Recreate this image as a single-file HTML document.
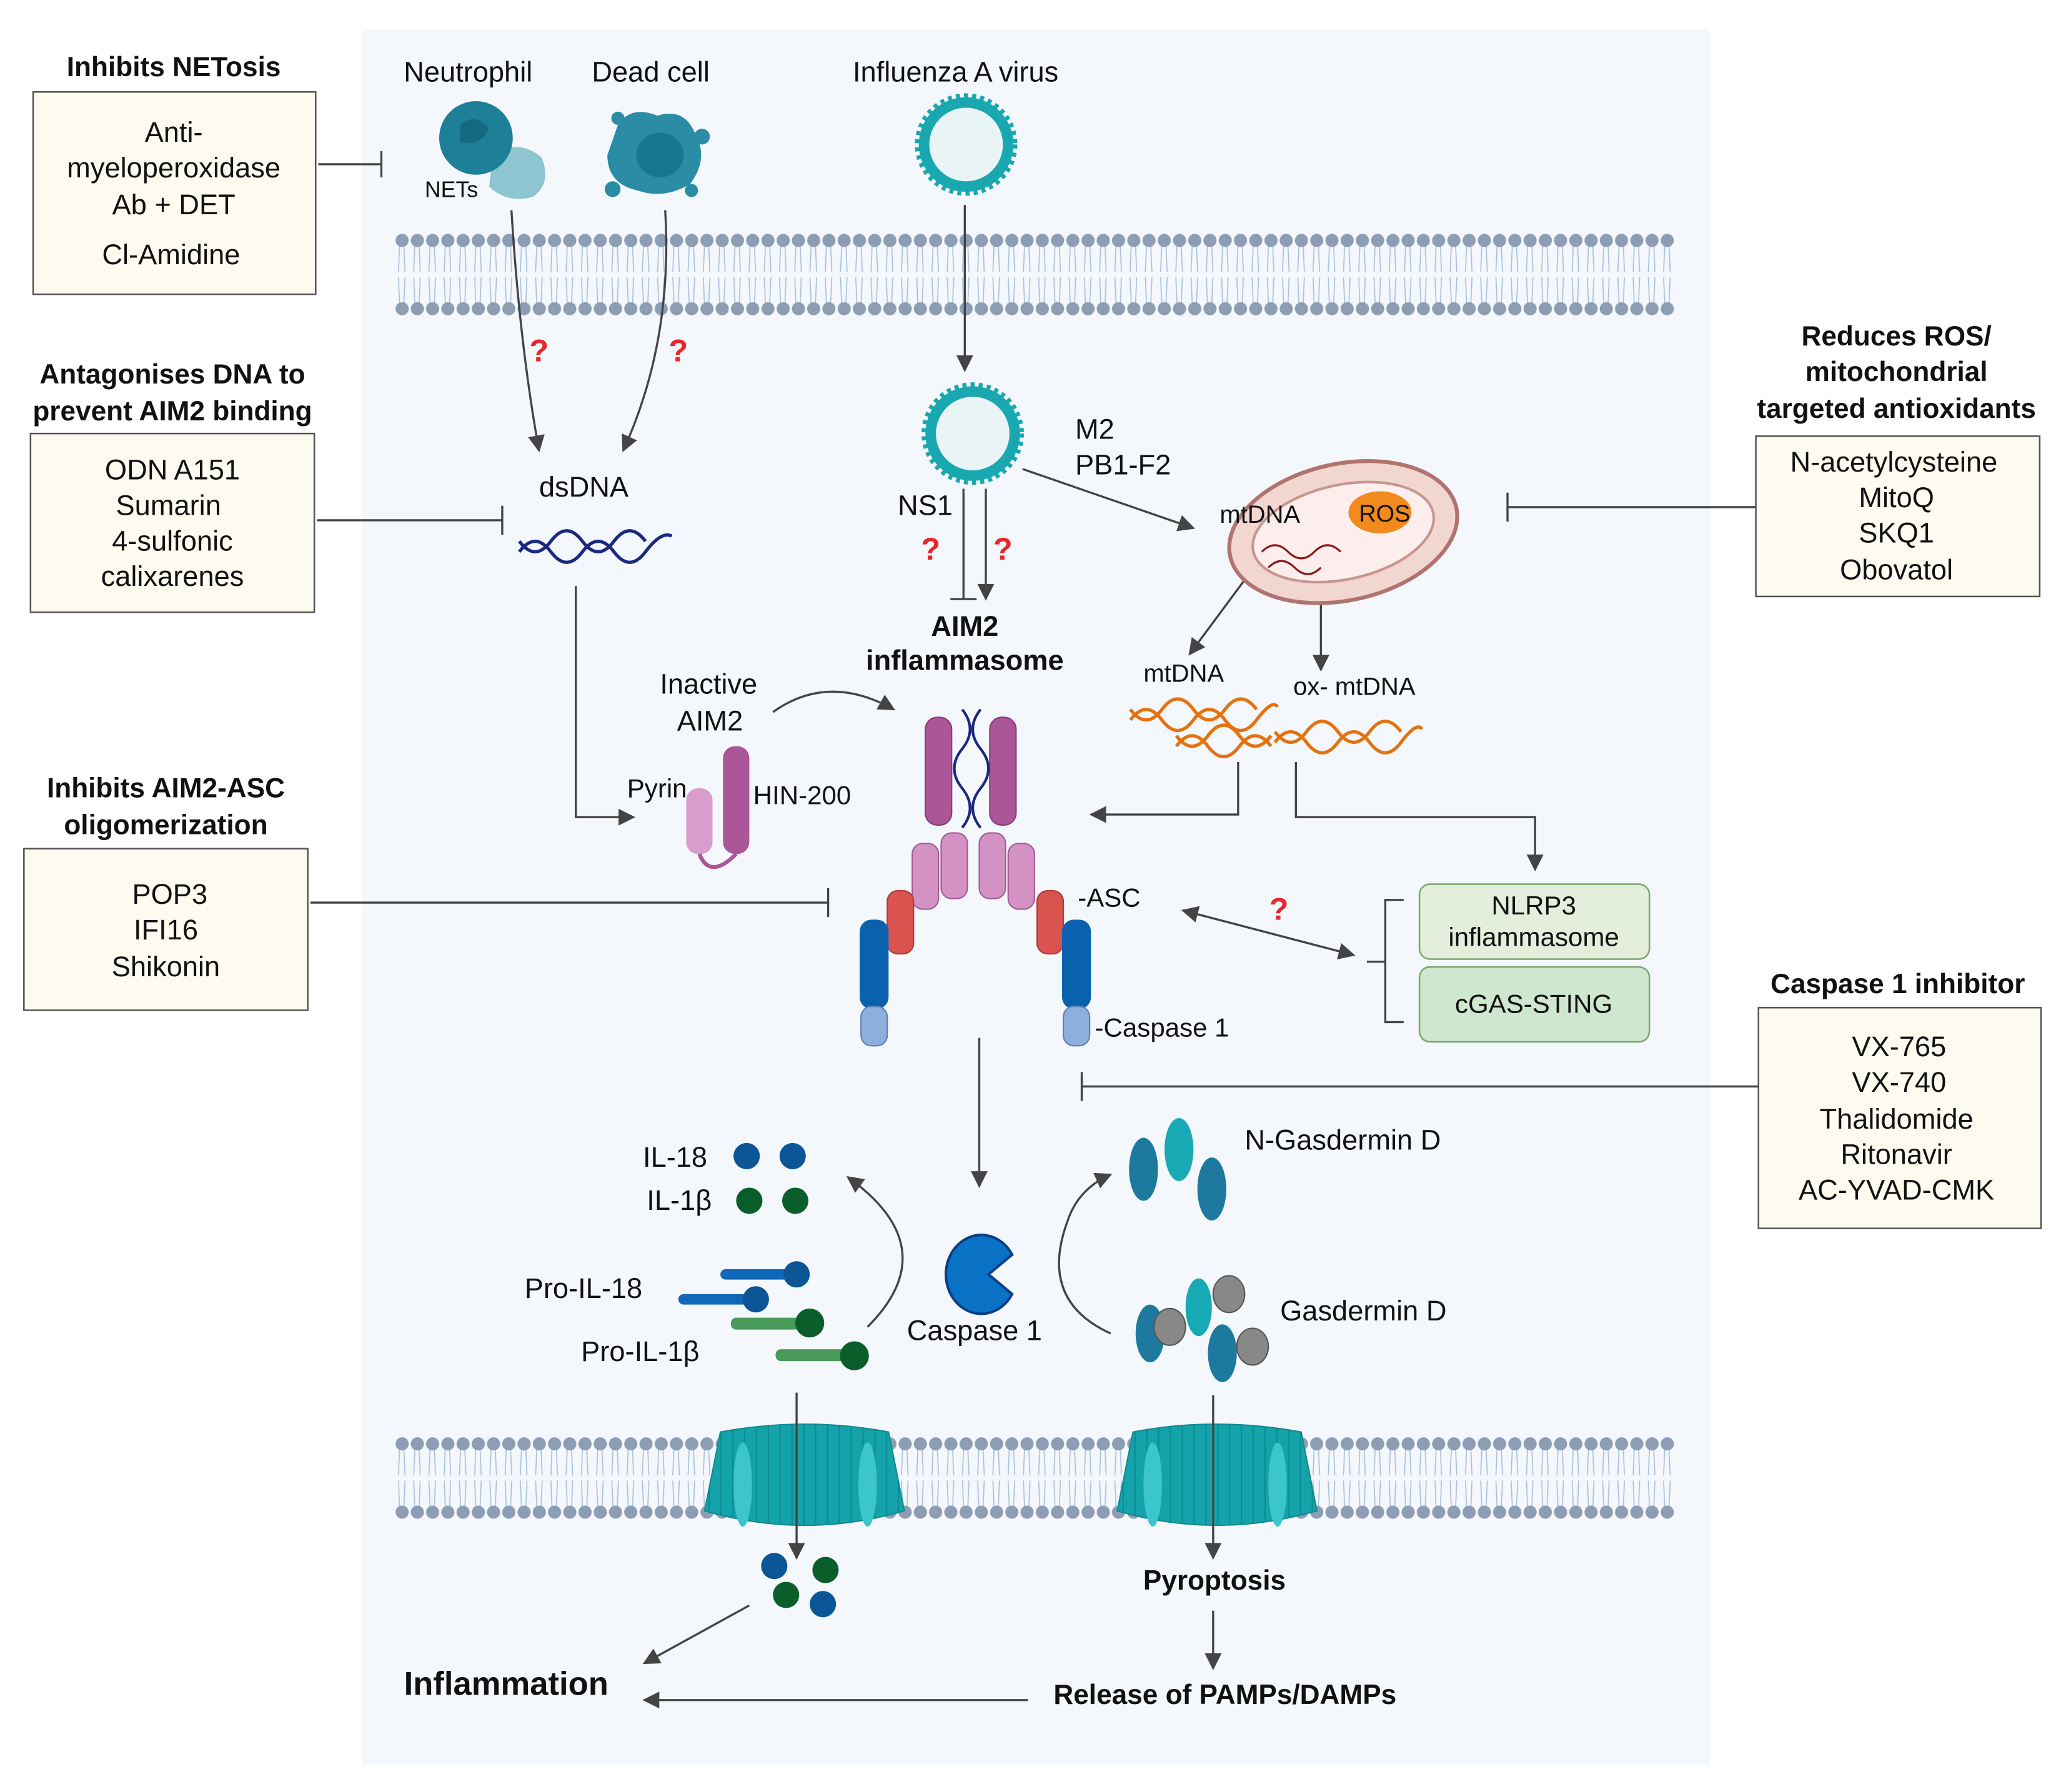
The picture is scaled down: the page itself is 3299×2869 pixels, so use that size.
<!DOCTYPE html>
<html><head><meta charset="utf-8"><style>html,body{margin:0;padding:0;background:#fff}svg{display:block}text{font-family:"Liberation Sans",sans-serif}</style></head><body>
<svg width="3299" height="2869" viewBox="0 0 1568 1364" xmlns="http://www.w3.org/2000/svg" fill="#111">
<defs>
<marker id="a" viewBox="0 0 10 10" refX="9" refY="5" markerWidth="9" markerHeight="8" orient="auto-start-reverse"><path d="M0,0L10,5L0,10z" fill="#444"/></marker>
<pattern id="mem" x="300" y="178" width="11.6" height="62" patternUnits="userSpaceOnUse">
<path d="M4,6 L3,29 M7,6 L8,29 M3,33 L4,56 M8,33 L7,56" stroke="#aac0da" stroke-width="0.8" fill="none"/>
<circle cx="5.8" cy="5" r="5" fill="#8c9db4"/><circle cx="5.8" cy="57" r="5" fill="#8c9db4"/>
</pattern>
<pattern id="mem2" x="300" y="1094" width="11.6" height="62" patternUnits="userSpaceOnUse">
<path d="M4,6 L3,29 M7,6 L8,29 M3,33 L4,56 M8,33 L7,56" stroke="#aac0da" stroke-width="0.8" fill="none"/>
<circle cx="5.8" cy="5" r="5" fill="#8c9db4"/><circle cx="5.8" cy="57" r="5" fill="#8c9db4"/>
</pattern>
<pattern id="pore" x="0" y="0" width="9" height="100" patternUnits="userSpaceOnUse"><rect width="9" height="100" fill="#14a3ab"/><path d="M8.5,0V100" stroke="#0d8a91" stroke-width="1"/></pattern>
</defs>
<rect x="275" y="22" width="1026" height="1321" fill="#f4f7fb"/>
<rect x="300" y="178" width="974" height="62" fill="url(#mem)"/>
<rect x="300" y="1094" width="974" height="62" fill="url(#mem2)"/>
<!-- pores -->
<g stroke="#0f8a90" stroke-width="1">
<path d="M548,1090 Q612,1078 676,1090 L688,1150 Q612,1172 536,1150Z" fill="url(#pore)"/>
<path d="M862,1090 Q925,1078 990,1090 L1002,1150 Q925,1172 850,1150Z" fill="url(#pore)"/>
</g>
<g fill="#3cc6cc"><ellipse cx="565" cy="1130" rx="7" ry="32"/><ellipse cx="660" cy="1130" rx="7" ry="32"/><ellipse cx="877" cy="1130" rx="7" ry="32"/><ellipse cx="972" cy="1130" rx="7" ry="32"/></g>

<g fill="#fdfbf0" stroke="#555" stroke-width="1.2">
<rect x="25" y="70" width="215" height="154"/>
<rect x="23" y="330" width="216" height="136"/>
<rect x="18" y="646" width="216" height="123"/>
<rect x="1336" y="332" width="216" height="122"/>
<rect x="1338" y="767" width="215" height="168"/>
</g>
<g font-weight="bold" font-size="21" text-anchor="middle">
<text x="132" y="58">Inhibits NETosis</text>
<text x="131" y="292">Antagonises DNA to</text><text x="131" y="320">prevent AIM2 binding</text>
<text x="126" y="607">Inhibits AIM2-ASC</text><text x="126" y="635">oligomerization</text>
<text x="1443" y="263">Reduces ROS/</text><text x="1443" y="290">mitochondrial</text><text x="1443" y="318">targeted antioxidants</text>
<text x="1444" y="756">Caspase 1 inhibitor</text>
</g>
<g font-size="21.5" text-anchor="middle">
<text x="132" y="108">Anti-</text><text x="132" y="135">myeloperoxidase</text><text x="132" y="163">Ab + DET</text><text x="130" y="201">Cl-Amidine</text>
<text x="131" y="365">ODN A151</text><text x="128" y="392">Sumarin</text><text x="131" y="419">4-sulfonic</text><text x="131" y="446">calixarenes</text>
<text x="129" y="688">POP3</text><text x="126" y="715">IFI16</text><text x="126" y="743">Shikonin</text>
<text x="1441" y="359">N-acetylcysteine</text><text x="1443" y="386">MitoQ</text><text x="1443" y="413">SKQ1</text><text x="1443" y="441">Obovatol</text>
<text x="1445" y="804">VX-765</text><text x="1445" y="831">VX-740</text><text x="1443" y="859">Thalidomide</text><text x="1443" y="886">Ritonavir</text><text x="1443" y="913">AC-YVAD-CMK</text>
</g>
<g stroke="#444" stroke-width="1.6" fill="none">
<path d="M242,125H290M290,115V135"/>
<path d="M241,396H382M382,385V407"/>
<path d="M236,687H630M630,676V698"/>
<path d="M1336,386H1147M1147,375V397"/>
<path d="M1338,827H823M823,816V838"/>
</g>
<g font-size="21.5" text-anchor="middle">
<text x="356" y="62">Neutrophil</text><text x="495" y="62">Dead cell</text><text x="727" y="62">Influenza A virus</text>
</g>
<!-- neutrophil -->
<path d="M375,118 Q395,105 412,120 Q420,140 405,150 Q385,155 372,142Z" fill="#8fc5d0"/>
<circle cx="362" cy="105" r="28" fill="#1d7f98"/><path d="M350,95 Q362,85 372,98 Q365,112 350,108Z" fill="#156a82"/>
<text x="323" y="150" font-size="17">NETs</text>
<!-- dead cell -->
<path d="M470,95 Q480,80 500,88 Q520,82 528,100 Q540,120 525,140 Q505,152 485,145 Q462,140 462,118Z" fill="#2a8ca5"/>
<ellipse cx="502" cy="118" rx="18" ry="17" fill="#157890"/>
<circle cx="470" cy="90" r="5" fill="#2a8ca5"/><circle cx="534" cy="104" r="6" fill="#2a8ca5"/><circle cx="466" cy="144" r="6" fill="#2a8ca5"/><circle cx="526" cy="145" r="5" fill="#2a8ca5"/>
<!-- virus -->
<g><circle cx="735" cy="110" r="36" fill="#1aa8b0"/><circle cx="735" cy="110" r="28" fill="#e8f4f6"/><circle cx="735" cy="110" r="36" fill="none" stroke="#1aa8b0" stroke-width="6" stroke-dasharray="3 3"/></g>
<g><circle cx="740" cy="330" r="36" fill="#1aa8b0"/><circle cx="740" cy="330" r="28" fill="#e8f4f6"/><circle cx="740" cy="330" r="36" fill="none" stroke="#1aa8b0" stroke-width="6" stroke-dasharray="3 3"/></g>
<g stroke="#444" stroke-width="1.6" fill="none">
<path d="M389,160 Q395,260 410,343" marker-end="url(#a)"/>
<path d="M506,160 Q512,260 474,343" marker-end="url(#a)"/>
<path d="M734,156V282" marker-end="url(#a)"/>
<path d="M750,372V456" marker-end="url(#a)"/>
<path d="M733,372V456M723,456H743"/>
<path d="M778,357L908,402" marker-end="url(#a)"/>
<path d="M948,440L905,498" marker-end="url(#a)"/>
<path d="M1005,447V510" marker-end="url(#a)"/>
<path d="M438,446V622H482" marker-end="url(#a)"/>
<path d="M588,542 Q630,512 680,540" marker-end="url(#a)"/>
<path d="M942,580V620H830" marker-end="url(#a)"/>
<path d="M986,580V622H1168V662" marker-end="url(#a)"/>
<path d="M900,693L1030,727" marker-start="url(#a)" marker-end="url(#a)"/>
<path d="M1068,685H1054V778H1068M1054,732H1040"/>
<path d="M745,790V903" marker-end="url(#a)"/>
<path d="M660,1010 Q720,950 645,896" marker-end="url(#a)"/>
<path d="M845,1015 Q790,990 812,930 Q820,905 845,894" marker-end="url(#a)"/>
<path d="M606,1060V1186" marker-end="url(#a)"/>
<path d="M923,1062V1186" marker-end="url(#a)"/>
<path d="M570,1222L490,1266" marker-end="url(#a)"/>
<path d="M923,1226V1270" marker-end="url(#a)"/>
<path d="M782,1294H490" marker-end="url(#a)"/>
</g>
<g fill="#e8262b" font-weight="bold" font-size="24" text-anchor="middle">
<text x="410" y="275" fill="#e8262b">?</text><text x="516" y="275" fill="#e8262b">?</text><text x="708" y="426" fill="#e8262b">?</text><text x="763" y="426" fill="#e8262b">?</text><text x="973" y="700" fill="#e8262b">?</text>
</g>
<g font-size="21.5">
<text x="410" y="378">dsDNA</text>
<text x="818" y="334">M2</text><text x="818" y="361">PB1-F2</text>
<text x="683" y="392">NS1</text>
<text x="502" y="528">Inactive</text><text x="515" y="556">AIM2</text>
<text x="477" y="607" font-size="20">Pyrin</text><text x="573" y="612" font-size="20">HIN-200</text>
<text x="820" y="690" font-size="20">-ASC</text><text x="833" y="789" font-size="20">-Caspase 1</text>
<text x="947" y="875">N-Gasdermin D</text><text x="974" y="1005">Gasdermin D</text>
<text x="690" y="1020">Caspase 1</text>
<text x="489" y="888">IL-18</text><text x="492" y="921">IL-1β</text>
<text x="399" y="988">Pro-IL-18</text><text x="442" y="1036">Pro-IL-1β</text>
<text x="870" y="519" font-size="19">mtDNA</text><text x="984" y="529" font-size="19">ox- mtDNA</text>
</g>
<g font-weight="bold" text-anchor="middle">
<text x="734" y="484" font-size="21.5">AIM2</text><text x="734" y="510" font-size="21.5">inflammasome</text>
<text x="924" y="1210" font-size="21">Pyroptosis</text>
<text x="932" y="1297" font-size="21">Release of PAMPs/DAMPs</text>
<text x="385" y="1290" font-size="25">Inflammation</text>
</g>
<g fill="none" stroke="#1a2a80" stroke-width="2.5"><path d="M395,420 q12,-16 24,0 t24,0 t24,0 t24,0 t20,-12"/><path d="M395,412 q12,16 24,0 t24,0 t24,0 t24,0"/></g>
<g transform="rotate(-12 1022 405)"><ellipse cx="1022" cy="405" rx="88" ry="52" fill="#f2d6d0" stroke="#b07470" stroke-width="3"/><ellipse cx="1022" cy="405" rx="70" ry="36" fill="#fbeeec" stroke="#c89590" stroke-width="2"/></g>
<ellipse cx="1050" cy="390" rx="24" ry="16" fill="#f28a1e"/><text x="1034" y="397" font-size="18">ROS</text>
<text x="928" y="398" font-size="19">mtDNA</text>
<g fill="none" stroke="#8b1a1a" stroke-width="1.5"><path d="M960,420 q10,-10 20,0 t20,0 t20,0"/><path d="M965,432 q10,-10 20,0 t20,0"/></g>
<g fill="none" stroke="#e3720f" stroke-width="2.5">
<path d="M860,548 q12,-16 24,0 t24,0 t24,0 t24,0 t16,-10"/><path d="M860,540 q12,16 24,0 t24,0 t24,0 t24,0"/>
<path d="M895,568 q12,-16 24,0 t24,0 t24,0"/><path d="M895,560 q12,16 24,0 t24,0 t24,0"/>
<path d="M970,565 q12,-16 24,0 t24,0 t24,0 t24,0 t16,-10"/><path d="M970,557 q12,16 24,0 t24,0 t24,0 t24,0"/>
</g>
<rect x="550" y="568" width="20" height="82" rx="9" fill="#ab5699"/><rect x="522" y="600" width="20" height="50" rx="9" fill="#d89ccd"/>
<path d="M532,650 Q540,670 560,650" stroke="#ab5699" stroke-width="3" fill="none"/>
<g fill="#ab5699" stroke="#8a3a7a"><rect x="704" y="546" width="20" height="82" rx="9"/><rect x="753" y="546" width="20" height="82" rx="9"/></g>
<g fill="none" stroke="#1a2a80" stroke-width="2"><path d="M732,540 q12,15 0,30 t0,30 t0,30"/><path d="M746,540 q-12,15 0,30 t0,30 t0,30"/></g>
<g fill="#d492c4" stroke="#a35a93"><rect x="694" y="642" width="20" height="50" rx="8"/><rect x="716" y="634" width="20" height="50" rx="8"/><rect x="745" y="634" width="20" height="50" rx="8"/><rect x="767" y="642" width="20" height="50" rx="8"/></g>
<g fill="#d9534f" stroke="#b03a36"><rect x="675" y="678" width="20" height="48" rx="8"/><rect x="789" y="678" width="20" height="48" rx="8"/></g>
<g fill="#0a62ae"><rect x="654" y="700" width="22" height="68" rx="9"/><rect x="808" y="700" width="22" height="68" rx="9"/></g>
<g fill="#8eaedb" stroke="#5a80b8"><rect x="655" y="766" width="20" height="30" rx="8"/><rect x="809" y="766" width="20" height="30" rx="8"/></g>
<rect x="1080" y="673" width="175" height="57" rx="8" fill="#e3efdc" stroke="#7aa86a" stroke-width="1.2"/>
<rect x="1080" y="736" width="175" height="57" rx="8" fill="#cfe6cf" stroke="#7aa86a" stroke-width="1.2"/>
<g font-size="20" text-anchor="middle"><text x="1167" y="696">NLRP3</text><text x="1167" y="720">inflammasome</text><text x="1167" y="771">cGAS-STING</text></g>
<g fill="#0c5596"><circle cx="568" cy="880" r="10"/><circle cx="603" cy="880" r="10"/><circle cx="589" cy="1192" r="10"/><circle cx="626" cy="1221" r="10"/></g>
<g fill="#0b5e2a"><circle cx="570" cy="914" r="10"/><circle cx="605" cy="914" r="10"/><circle cx="628" cy="1195" r="10"/><circle cx="598" cy="1214" r="10"/></g>
<g><rect x="548" y="966" width="60" height="8" rx="4" fill="#1168b8"/><circle cx="606" cy="970" r="10" fill="#0c5596"/>
<rect x="516" y="985" width="60" height="8" rx="4" fill="#1168b8"/><circle cx="575" cy="989" r="10" fill="#0c5596"/>
<rect x="556" y="1003" width="60" height="9" rx="4" fill="#4a9a5a"/><circle cx="616" cy="1007" r="11" fill="#0b5e2a"/>
<rect x="590" y="1027" width="60" height="9" rx="4" fill="#4a9a5a"/><circle cx="650" cy="1032" r="11" fill="#0b5e2a"/></g>
<path d="M770,955 L752,970 L770,985 A27,30 0 1 1 770,955Z" fill="#0a72c4" stroke="#0a3f85" stroke-width="2"/>
<g fill="#1d7a9e"><ellipse cx="870" cy="890" rx="11" ry="24"/><ellipse cx="922" cy="905" rx="11" ry="24"/><ellipse cx="875" cy="1015" rx="11" ry="22"/><ellipse cx="930" cy="1030" rx="11" ry="22"/></g>
<g fill="#17aab5"><ellipse cx="897" cy="875" rx="11" ry="24"/><ellipse cx="912" cy="995" rx="10" ry="22"/></g>
<g fill="#888" stroke="#555"><ellipse cx="890" cy="1010" rx="12" ry="14"/><ellipse cx="935" cy="985" rx="12" ry="14"/><ellipse cx="953" cy="1025" rx="12" ry="14"/></g>
</svg>
</body></html>
